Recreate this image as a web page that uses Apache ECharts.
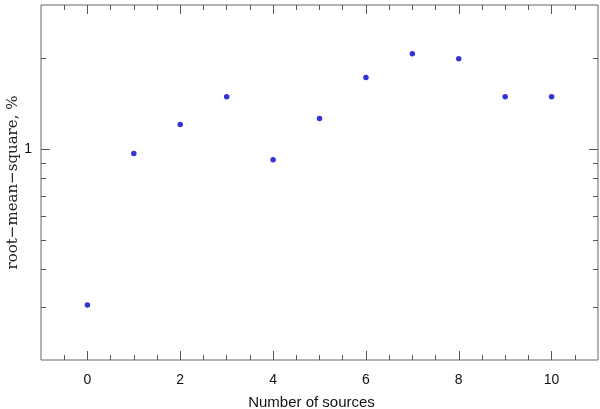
<!DOCTYPE html>
<html>
<head>
<meta charset="utf-8">
<script src="https://cdn.jsdelivr.net/npm/echarts@6/dist/echarts.min.js"></script>
<style>
html, body { margin: 0; padding: 0; background: #fff; }
#main { width: 600px; height: 409px; }
</style>
</head>
<body>
<div id="main"></div>
<script>
// number of sources vs rms (%)
var sources = [0, 1, 2, 3, 4, 5, 6, 7, 8, 9, 10];
var rms = [0.304, 0.966, 1.206, 1.49, 0.921, 1.262, 1.726, 2.069, 1.992, 1.49, 1.49];

var xLabels = [0, 2, 4, 6, 8, 10];
var xMinor = [-0.5, 0.5, 1, 1.5, 2.5, 3, 3.5, 4.5, 5, 5.5, 6.5, 7, 7.5, 8.5, 9, 9.5, 10.5];
var yLabels = [1];
var yMinor = [0.3, 0.4, 0.5, 0.6, 0.7, 0.8, 0.9, 2];

var tickColor = '#555';

function xAxisOf(pos, values, len, withLabels) {
    return {
        type: 'value',
        position: pos,
        min: -1,
        max: 11,
        name: withLabels ? 'Number of sources' : '',
        nameLocation: 'middle',
        nameGap: 35,
        nameTextStyle: { fontFamily: 'Liberation Sans', fontSize: 15, color: '#111', padding: [0, 16, 0, 0] },
        axisLine: { show: false, onZero: false },
        splitLine: { show: false },
        axisTick: { show: true, inside: true, length: len, customValues: values, lineStyle: { color: tickColor } },
        axisLabel: withLabels
            ? { show: true, customValues: xLabels, margin: 13, fontFamily: 'Liberation Sans', fontSize: 14, color: '#111' }
            : { show: false }
    };
}

function yAxisOf(pos, values, len, withLabels) {
    return {
        type: 'log',
        logBase: 10,
        position: pos,
        min: 0.2,
        max: 3,
        name: withLabels ? 'root\u2212mean\u2212square, %' : '',
        nameLocation: 'middle',
        nameGap: 20,
        nameMoveOverlap: false,
        nameTextStyle: { fontFamily: 'DejaVu Serif', fontSize: 15, color: '#222' },
        axisLine: { show: false, onZero: false },
        splitLine: { show: false },
        axisTick: { show: true, inside: true, length: len, customValues: values, lineStyle: { color: tickColor } },
        axisLabel: withLabels
            ? { show: true, customValues: yLabels, margin: 9, fontFamily: 'Liberation Sans', fontSize: 14, color: '#111' }
            : { show: false }
    };
}

var chart = echarts.init(document.getElementById('main'));

chart.setOption({
    animation: false,
    grid: {
        left: 41, right: 2, top: 5, bottom: 49,
        outerBoundsMode: 'none',
        show: true, borderColor: '#666', borderWidth: 1
    },
    xAxis: [
        xAxisOf('bottom', xLabels, 9, true),
        xAxisOf('bottom', xMinor, 5, false),
        xAxisOf('top', xLabels, 9, false),
        xAxisOf('top', xMinor, 5, false)
    ],
    yAxis: [
        yAxisOf('left', yLabels, 9, true),
        yAxisOf('left', yMinor, 5, false),
        yAxisOf('right', yLabels, 9, false),
        yAxisOf('right', yMinor, 5, false)
    ],
    series: [{
        type: 'scatter',
        xAxisIndex: 0,
        yAxisIndex: 0,
        symbolSize: 5.5,
        itemStyle: { color: '#0000cc' },
        data: sources.map(function (s, i) { return [s, rms[i]]; })
    }]
});
</script>
</body>
</html>
